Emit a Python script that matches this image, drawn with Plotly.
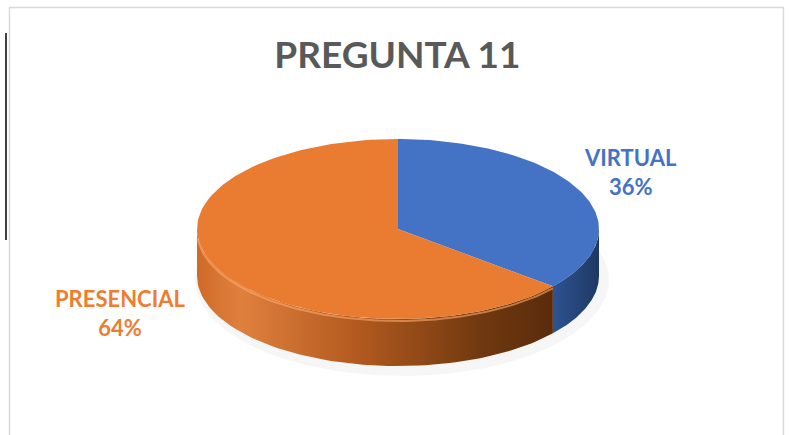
import numpy as np
import plotly.graph_objects as go

# ---- data ----
categories = ["VIRTUAL", "PRESENCIAL"]
values = [36, 64]
title_text = "PREGUNTA 11"

top_colors = ["#4472C4", "#EA7C31"]
side_scales = [
    [[0, "#2E5393"], [1, "#1E3862"]],
    [[0, "#CF6A27"], [0.12, "#E0803E"], [0.45, "#B25A1F"], [0.8, "#70380F"], [1, "#5A2C0C"]],
]
label_colors = ["#4472C4", "#ED7D31"]

# ---- geometry (pixel space) ----
W, H = 790, 435
cx, cy, rx, ry, depth = 398, 229, 201, 90, 47

def pt(theta_deg, dy=0.0):
    t = np.radians(theta_deg)
    return cx + rx * np.sin(t), cy - ry * np.cos(t) + dy

total = float(sum(values))
bounds = np.concatenate([[0.0], np.cumsum(values) / total * 360.0])

fig = go.Figure()

# soft shadow
th = np.linspace(0, 360, 181)
sx = cx + 4 + (rx + 6) * np.sin(np.radians(th))
sy = cy + depth + 4 - (ry + 6) * np.cos(np.radians(th))
fig.add_trace(go.Scatter(x=sx, y=sy, fill="toself", mode="lines",
                         line=dict(width=0), fillcolor="rgba(0,0,0,0.035)",
                         hoverinfo="skip", showlegend=False))

# sides (front-facing part: 90..270 deg)
for i in range(len(values)):
    a0, a1 = max(bounds[i], 90.0), min(bounds[i + 1], 270.0)
    if a1 <= a0:
        continue
    ts = np.linspace(a0, a1, 80)
    xt, yt = pt(ts)
    xb, yb = pt(ts[::-1], depth)
    xs = np.concatenate([xt, xb, xt[:1]])
    ys = np.concatenate([yt, yb, yt[:1]])
    fig.add_trace(go.Scatter(
        x=xs, y=ys, fill="toself", mode="lines", line=dict(width=0),
        fillgradient=dict(type="horizontal", colorscale=side_scales[i],
                          start=float(xs.min()), stop=float(xs.max())),
        hoverinfo="skip", showlegend=False))

# top faces
for i in range(len(values)):
    ts = np.linspace(bounds[i], bounds[i + 1], 120)
    xa, ya = pt(ts)
    xs = np.concatenate([[cx], xa, [cx]])
    ys = np.concatenate([[cy], ya, [cy]])
    fig.add_trace(go.Scatter(x=xs, y=ys, fill="toself", mode="lines",
                             line=dict(width=0), fillcolor=top_colors[i],
                             name=categories[i], hoverinfo="name",
                             showlegend=False))

# bevel highlight along front rim of top face
ts = np.linspace(max(bounds[1], 95), 265, 100)
hx, hy = pt(ts, 2)
fig.add_trace(go.Scatter(x=hx, y=hy, mode="lines",
                         line=dict(width=2, color="rgba(255,170,110,0.6)"),
                         hoverinfo="skip", showlegend=False))

# labels
label_pos = [(630, 172), (120, 313)]
for i in range(len(values)):
    pct = round(values[i] / total * 100)
    fig.add_annotation(x=label_pos[i][0], y=label_pos[i][1], xref="x", yref="y",
                       text=f"<b>{categories[i]}</b><br><b>{pct}%</b>",
                       showarrow=False, align="center",
                       font=dict(family="Lato, Open Sans, sans-serif", size=22,
                                 color=label_colors[i]))

fig.update_layout(
    width=W, height=H,
    margin=dict(l=0, r=0, t=0, b=0),
    paper_bgcolor="white", plot_bgcolor="white",
    xaxis=dict(range=[0, W], visible=False, fixedrange=True),
    yaxis=dict(range=[H, 0], visible=False, fixedrange=True),
    showlegend=False,
    title=dict(text=f"<b>{title_text}</b>", x=0.503, xanchor="center",
               y=1 - 55 / H, yanchor="middle",
               font=dict(family="Lato, Open Sans, sans-serif", size=37,
                         color="#595959")),
    shapes=[
        dict(type="rect", xref="x", yref="y", x0=9.5, y0=7.5, x1=783.5, y1=440,
             line=dict(color="#D9D9D9", width=1.5)),
        dict(type="line", xref="x", yref="y", x0=6, y0=33, x1=6, y1=240,
             line=dict(color="black", width=1.5)),
    ],
)

fig.write_html("out.html", config={"displayModeBar": False},
               post_script="document.body.style.margin='0';document.body.style.overflow='hidden';")
